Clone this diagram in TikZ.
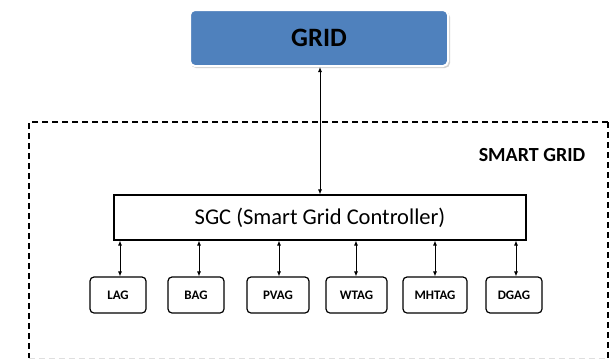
\documentclass[tikz,border=0pt]{standalone}
\usepackage{fontspec}
\setmainfont{Carlito}
\usetikzlibrary{arrows.meta}
\definecolor{gridblue}{HTML}{4F81BD}
\tikzset{
  agent/.style={draw=black, line width=1.2pt, rounded corners=4pt, minimum width=#1, minimum height=36pt, inner sep=0pt, font=\bfseries\fontsize{13}{14}\selectfont},
  link/.style={{Latex[length=5pt,width=4pt]}-{Latex[length=5pt,width=4pt]}, line width=0.8pt},
}
\begin{document}
\begin{tikzpicture}[x=1pt,y=-1pt]
\useasboundingbox (0,0) rectangle (610,359);
\fill[white] (0,0) rectangle (610,359);
% dashed smart grid frame
\draw[line width=1.2pt, dash pattern=on 6pt off 4pt] (608,122) -- (29,122) -- (29,358);
\draw[line width=1.2pt, dash pattern=on 6pt off 4pt] (608,122) -- (608,358);
\draw[gray!25, line width=1pt, dash pattern=on 6pt off 4pt] (29,358) -- (608,358);
\node[font=\bfseries\fontsize{20}{22}\selectfont, anchor=center] (sg) at (532,155) {SMART GRID};
% GRID box
\fill[gray!35, rounded corners=5pt] (191,12) rectangle (450,68);
\node[draw=white, line width=2pt, fill=gridblue, rounded corners=5pt, minimum width=258pt, minimum height=56pt, inner sep=0pt, font=\bfseries\fontsize{26.5}{28}\selectfont] (grid) at (319,38) {GRID};
% SGC box
\node[draw=black, line width=1.2pt, fill=white, minimum width=412pt, minimum height=45pt, inner sep=0pt, font=\fontsize{22.5}{24}\selectfont] (sgc) at (320,217.5) {SGC (Smart Grid Controller)};
% agents
\node[agent=56pt] (lag) at (118,295) {LAG};
\node[agent=56pt] (bag) at (196,295) {BAG};
\node[agent=62pt] (pvag) at (278,295) {PVAG};
\node[agent=61pt] (wtag) at (356.5,295) {WTAG};
\node[agent=64pt] (mhtag) at (435,295) {MHTAG};
\node[agent=56pt] (dgag) at (514,295) {DGAG};
% connectors
\draw[link] (grid.south -| 320,0) -- (sgc.north -| 320,0);
\foreach \n/\x in {lag/120, bag/199, pvag/279, wtag/356, mhtag/435, dgag/516}{
  \draw[link] (sgc.south -| \x,0) -- (\n.north -| \x,0);
}
\end{tikzpicture}
\end{document}
